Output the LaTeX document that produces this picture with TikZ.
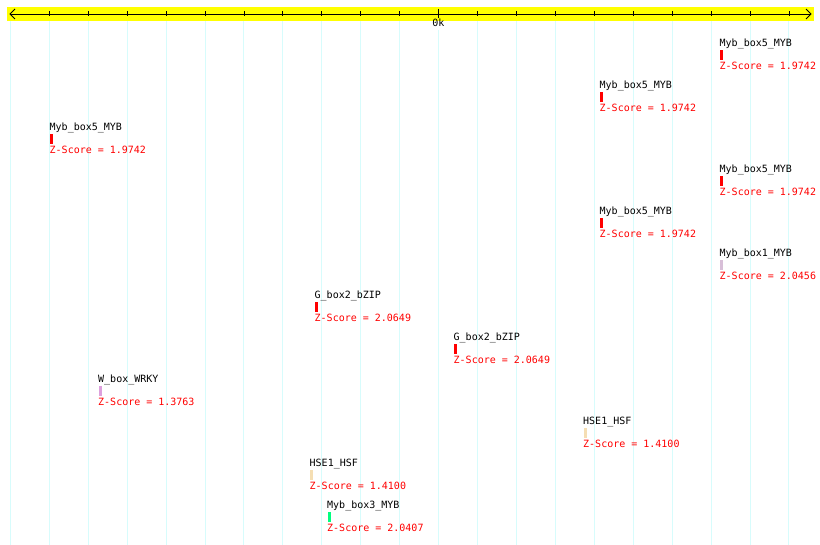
\documentclass[tikz,border=0pt]{standalone}
\usepackage{fontspec}
\setmonofont{DejaVu Sans Mono}
\definecolor{gridc}{RGB}{215,252,252}
\definecolor{bandy}{RGB}{255,255,0}
\definecolor{zred}{RGB}{255,0,0}
\definecolor{cmyb}{RGB}{255,0,0}
\definecolor{cmybone}{RGB}{216,191,216}
\definecolor{cwrky}{RGB}{221,160,221}
\definecolor{chsf}{RGB}{245,222,179}
\definecolor{cmybthree}{RGB}{0,255,127}
\tikzset{
  lbl/.style={anchor=base west,inner sep=0pt,font=\ttfamily\fontsize{10}{10}\selectfont,text=black},
  zlbl/.style={lbl,text=zred},
  gridline/.style={draw=gridc,line width=1pt},
  tick/.style={draw=black,line width=0.9pt},
}
\begin{document}
\begin{tikzpicture}[x=1pt,y=-1pt]
\useasboundingbox (0,0) rectangle (820,545);
\fill[white] (0,0) rectangle (820,545);
% grid lines
\draw[gridline] (10.3,21) -- (10.3,545);
\foreach \k in {0,...,19}{
  \pgfmathsetmacro{\xx}{49.3+38.93*\k}
  \ifnum\k=10
    \draw[gridline] (\xx,30) -- (\xx,545);
  \else
    \draw[gridline] (\xx,21) -- (\xx,545);
  \fi
}
% axis band
\fill[bandy] (7,7) rectangle (814,21);
\coordinate (axl) at (10,14);
\coordinate (axr) at (811,14);
\draw[black,line width=0.9pt] (axl) -- (axr);
\draw[black,line width=0.8pt] (15,9) -- (axl) -- (15,19);
\draw[black,line width=0.8pt] (806,9) -- (axr) -- (806,19);
\foreach \k in {0,...,19}{
  \pgfmathsetmacro{\xx}{49.3+38.93*\k}
  \ifnum\k=10
    \draw[tick] (\xx,9.5) -- (\xx,18);
  \else
    \draw[tick] (\xx,11.5) -- (\xx,16.5);
  \fi
}
\node[lbl,anchor=base] (zero) at (438.3,27) {0k};
% features
\foreach \x/\k/\name/\col/\z [count=\i] in {
  720/0/Myb\_box5\_MYB/cmyb/1.9742,
  600/1/Myb\_box5\_MYB/cmyb/1.9742,
  50/2/Myb\_box5\_MYB/cmyb/1.9742,
  720/3/Myb\_box5\_MYB/cmyb/1.9742,
  600/4/Myb\_box5\_MYB/cmyb/1.9742,
  720/5/Myb\_box1\_MYB/cmybone/2.0456,
  315/6/G\_box2\_bZIP/cmyb/2.0649,
  454/7/G\_box2\_bZIP/cmyb/2.0649,
  98.5/8/W\_box\_WRKY/cwrky/1.3763,
  583.5/9/HSE1\_HSF/chsf/1.4100,
  310/10/HSE1\_HSF/chsf/1.4100,
  327.5/11/Myb\_box3\_MYB/cmybthree/2.0407}{
  \pgfmathsetmacro{\yl}{46.5+42*\k}
  \pgfmathsetmacro{\yb}{50+42*\k}
  \pgfmathsetmacro{\yz}{69.5+42*\k}
  \node[lbl] (name\i) at (\x-0.5,\yl) {\name};
  \fill[\col] (\x,\yb) rectangle (\x+3,\yb+10);
  \node[zlbl] (z\i) at (\x-0.5,\yz) {Z-Score = \z};
}
\end{tikzpicture}
\end{document}
